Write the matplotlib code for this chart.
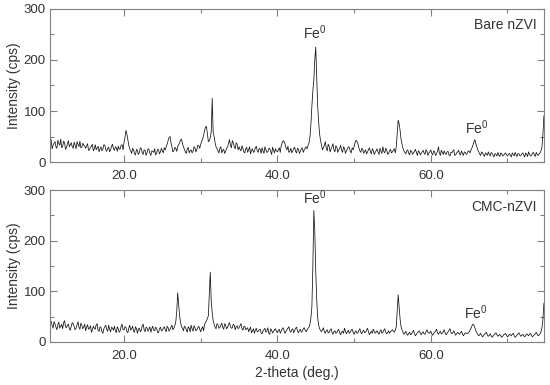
import numpy as np
import matplotlib
matplotlib.use("Agg")
import matplotlib.pyplot as plt
from matplotlib.ticker import MultipleLocator, FixedLocator

plt.rcParams['font.family'] = ['Liberation Sans', 'DejaVu Sans']
plt.rcParams['mathtext.fontset'] = 'custom'
plt.rcParams['mathtext.rm'] = 'Liberation Sans'

# 2-theta sampling grid (deg.), 0.25 step from 10.0 to 74.75,
# plus the in-between readings at +0.125
two_theta = np.arange(10.0, 75.0, 0.25)
two_theta_mid = two_theta + 0.125

# Bare nZVI intensity (cps), 20 points per 5 deg
bare_nzvi = [
    38, 29, 44, 33, 40, 27, 36, 45, 31, 38, 28, 42, 34, 30, 39, 26, 35, 41, 29, 33,
    27, 36, 24, 31, 22, 34, 28, 20, 30, 25, 33, 21, 29, 24, 35, 23, 28, 31, 26, 34,
    38, 62, 44, 26, 17, 24, 14, 22, 19, 27, 15, 23, 18, 25, 13, 21, 26, 17, 24, 20,
    22, 28, 30, 42, 50, 30, 22, 27, 30, 38, 45, 30, 20, 26, 18, 24, 21, 28, 25, 32,
    35, 45, 62, 70, 40, 48, 125, 50, 30, 22, 27, 18, 25, 21, 30, 44, 28, 38, 26, 35,
    30, 22, 27, 18, 29, 24, 16, 26, 21, 31, 19, 25, 28, 17, 24, 20, 27, 15, 23, 26,
    20, 28, 32, 42, 35, 24, 19, 27, 22, 29, 18, 25, 21, 28, 24, 30, 33, 50, 110, 160,
    225, 110, 55, 34, 28, 40, 22, 31, 26, 36, 20, 29, 24, 33, 19, 27, 22, 30, 21, 28,
    30, 43, 36, 22, 27, 17, 24, 20, 28, 16, 23, 19, 26, 15, 22, 30, 18, 24, 17, 25,
    20, 26, 30, 82, 62, 35, 22, 16, 24, 14, 21, 18, 25, 13, 20, 17, 23, 15, 21, 18,
    24, 14, 20, 16, 30, 13, 19, 22, 15, 21, 12, 18, 24, 14, 20, 16, 22, 13, 19, 17,
    21, 24, 33, 44, 30, 20, 13, 18, 11, 16, 20, 12, 17, 10, 15, 19, 11, 16, 13, 18,
    12, 17, 10, 15, 19, 11, 16, 13, 18, 10, 15, 20, 12, 17, 14, 19, 13, 18, 30, 90,
]
bare_nzvi_mid = [
    31, 40, 26, 37, 30, 43, 33, 28, 41, 25, 36, 30, 38, 27, 33, 40, 30, 28, 37, 31,
    32, 23, 29, 35, 26, 24, 31, 26, 22, 34, 24, 27, 20, 31, 26, 30, 21, 25, 33, 24,
    48, 55, 33, 22, 27, 16, 25, 15, 28, 18, 24, 13, 26, 17, 22, 19, 14, 25, 16, 27,
    18, 24, 35, 48, 38, 20, 29, 21, 34, 43, 36, 25, 17, 29, 22, 18, 30, 20, 33, 27,
    40, 52, 68, 55, 42, 60, 58, 38, 26, 18, 30, 23, 17, 27, 36, 33, 42, 30, 38, 24,
    25, 32, 20, 26, 19, 30, 23, 19, 28, 22, 27, 17, 22, 30, 19, 26, 21, 29, 18, 22,
    24, 19, 38, 40, 28, 31, 21, 18, 26, 21, 27, 17, 26, 19, 27, 26, 38, 75, 140, 200,
    170, 80, 42, 24, 33, 27, 35, 20, 30, 24, 32, 19, 27, 23, 30, 17, 26, 29, 18, 24,
    38, 40, 28, 19, 25, 21, 16, 24, 21, 26, 15, 22, 20, 27, 17, 21, 27, 15, 22, 18,
    23, 18, 55, 75, 45, 27, 19, 22, 17, 23, 15, 21, 19, 22, 14, 20, 18, 24, 13, 20,
    17, 22, 13, 21, 18, 23, 15, 17, 20, 14, 19, 22, 13, 18, 23, 14, 17, 20, 15, 22,
    18, 28, 40, 36, 24, 16, 20, 14, 18, 13, 15, 19, 13, 17, 12, 14, 18, 12, 16, 14,
    15, 13, 18, 12, 14, 17, 12, 16, 14, 18, 11, 15, 13, 19, 11, 15, 16, 22, 55, 95,
]

# CMC-nZVI intensity (cps)
cmc_nzvi = [
    58, 30, 41, 27, 36, 24, 39, 31, 26, 42, 28, 35, 23, 38, 30, 27, 40, 25, 33, 29,
    22, 34, 27, 19, 31, 25, 36, 21, 28, 17, 30, 24, 33, 20, 27, 31, 18, 26, 22, 35,
    24, 29, 18, 33, 26, 21, 30, 17, 27, 23, 35, 20, 28, 25, 19, 31, 22, 27, 18, 29,
    23, 30, 20, 28, 25, 33, 27, 40, 97, 52, 30, 22, 29, 19, 27, 33, 21, 28, 24, 31,
    20, 30, 35, 42, 52, 138, 58, 35, 26, 34, 28, 37, 25, 33, 29, 38, 27, 35, 24, 32,
    28, 36, 23, 31, 26, 20, 29, 22, 17, 27, 21, 25, 16, 24, 19, 28, 15, 23, 20, 26,
    18, 25, 21, 28, 17, 24, 30, 19, 26, 22, 29, 18, 25, 21, 28, 20, 27, 35, 70, 260,
    140, 48, 26, 20, 28, 17, 24, 19, 26, 15, 22, 18, 25, 14, 21, 27, 16, 23, 19, 25,
    15, 22, 18, 26, 16, 23, 19, 27, 14, 21, 25, 17, 22, 15, 24, 19, 26, 16, 22, 20,
    24, 19, 30, 93, 45, 24, 15, 21, 13, 19, 16, 23, 12, 18, 22, 14, 20, 15, 24, 17,
    21, 13, 19, 25, 15, 21, 17, 24, 14, 20, 26, 16, 22, 13, 19, 15, 21, 12, 18, 16,
    20, 27, 35, 28, 18, 12, 17, 10, 15, 19, 11, 16, 9, 14, 18, 11, 15, 9, 14, 17,
    10, 15, 12, 17, 9, 14, 18, 11, 15, 10, 16, 12, 17, 10, 14, 19, 12, 16, 28, 76,
]
cmc_nzvi_mid = [
    45, 36, 33, 40, 29, 34, 27, 35, 38, 30, 33, 26, 31, 36, 24, 34, 29, 37, 26, 35,
    29, 25, 32, 24, 27, 34, 22, 30, 20, 26, 33, 21, 25, 29, 23, 22, 30, 19, 31, 24,
    30, 21, 27, 23, 31, 19, 26, 25, 20, 32, 24, 29, 21, 30, 26, 23, 29, 19, 26, 22,
    27, 24, 31, 21, 29, 24, 32, 60, 75, 38, 27, 31, 24, 30, 20, 26, 32, 22, 28, 25,
    26, 22, 38, 46, 95, 80, 42, 29, 36, 27, 33, 29, 36, 26, 34, 30, 28, 33, 30, 26,
    32, 27, 30, 24, 28, 25, 18, 26, 23, 20, 24, 18, 22, 27, 21, 17, 26, 18, 24, 21,
    23, 17, 26, 22, 21, 27, 22, 24, 18, 27, 21, 23, 19, 26, 23, 24, 29, 48, 150, 220,
    85, 34, 23, 24, 20, 22, 18, 23, 19, 20, 17, 22, 18, 20, 17, 21, 20, 17, 23, 19,
    20, 17, 23, 19, 21, 18, 23, 20, 18, 17, 21, 19, 18, 21, 17, 23, 19, 18, 17, 22,
    21, 23, 60, 70, 30, 19, 18, 16, 17, 14, 20, 16, 15, 20, 17, 18, 16, 20, 19, 18,
    16, 17, 21, 18, 19, 16, 20, 18, 17, 23, 19, 18, 17, 16, 17, 18, 16, 15, 17, 18,
    23, 32, 33, 22, 15, 14, 13, 12, 17, 14, 13, 12, 12, 16, 14, 13, 12, 11, 15, 13,
    12, 14, 15, 12, 11, 16, 14, 13, 12, 13, 14, 15, 13, 12, 16, 15, 14, 20, 45, 80,
]

panels = [
    (bare_nzvi, bare_nzvi_mid, "Bare nZVI", 269, (44.9, 253), (66.0, 67)),
    (cmc_nzvi, cmc_nzvi_mid, "CMC-nZVI", 266, (44.9, 286), (65.8, 57)),
]

text_color = "#333333"
spine_color = "#808080"

fig = plt.figure(figsize=(5.5, 3.85), dpi=100)
ax_top = fig.add_axes([0.0909, 0.579, 0.898, 0.398])
ax_bot = fig.add_axes([0.0909, 0.112, 0.898, 0.394])

for ax, (counts, counts_mid, name, name_y, fe1, fe2) in zip([ax_top, ax_bot], panels):
    # merge the two readings into one trace, ordered by angle
    x = np.column_stack([two_theta, two_theta_mid]).ravel()
    y = np.column_stack([counts, counts_mid]).ravel()
    ax.plot(x, y, color="#111111", lw=0.55)
    ax.set_xlim(10.35, 74.75)
    ax.set_ylim(0, 300)
    ax.xaxis.set_major_locator(FixedLocator([20, 40, 60]))
    ax.xaxis.set_minor_locator(FixedLocator([30, 50, 70]))
    ax.yaxis.set_major_locator(MultipleLocator(100))
    ax.yaxis.set_minor_locator(MultipleLocator(50))
    ax.set_xticklabels(["20.0", "40.0", "60.0"])
    ax.tick_params(which="both", direction="in", top=True, right=True,
                   color=spine_color, labelcolor=text_color, labelsize=9.5)
    ax.tick_params(which="major", length=5, width=0.8)
    ax.tick_params(which="minor", length=3, width=0.8)
    ax.tick_params(axis="x", pad=6)
    ax.tick_params(axis="y", pad=3)
    for s in ax.spines.values():
        s.set_color(spine_color)
        s.set_linewidth(0.8)
    ax.set_ylabel("Intensity (cps)", fontsize=10, color=text_color, labelpad=2)
    ax.text(73.8, name_y, name, ha="right", va="center",
            fontsize=10, color=text_color)
    ax.text(fe1[0], fe1[1], r"Fe$^\mathregular{0}$", ha="center", va="center",
            fontsize=10, color=text_color)
    ax.text(fe2[0], fe2[1], r"Fe$^\mathregular{0}$", ha="center", va="center",
            fontsize=10, color=text_color)

ax_bot.set_xlabel("2-theta (deg.)", fontsize=10, color=text_color, labelpad=3)

plt.savefig("out.png", dpi=100)
